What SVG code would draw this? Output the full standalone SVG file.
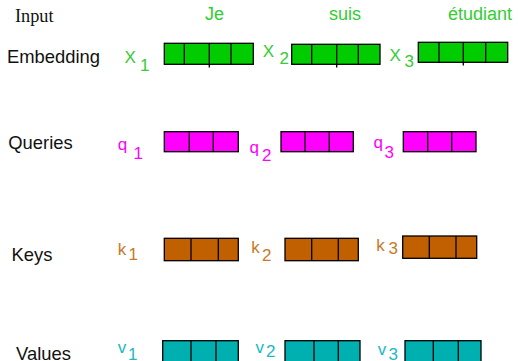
<svg xmlns="http://www.w3.org/2000/svg" width="518" height="361" viewBox="0 0 518 361">
  <style>
    .row { font-family: "Liberation Sans", Arial, sans-serif; font-size: 18.4px; fill: #111; }
    .word { font-family: "Liberation Sans", Arial, sans-serif; font-size: 18px; fill: #33cc33; }
    .lbl { font-family: "Liberation Sans", Arial, sans-serif; font-size: 17px; }
    .emb { fill: #00cc00; stroke: #000; stroke-width: 1.3; }
    .qry { fill: #ff00ff; stroke: #000; stroke-width: 1.3; }
    .key { fill: #c06000; stroke: #000; stroke-width: 1.3; }
    .val { fill: #00b0b0; stroke: #000; stroke-width: 1.3; }
    .div { stroke: #000; stroke-width: 1.3; fill: none; }
    .g { fill: #33cc33; }
    .m { fill: #ff00ff; }
    .b { fill: #c87828; }
    .t { fill: #20b8c4; }
  </style>

  <!-- row headings -->
  <g id="headings">
    <text x="15" y="21.5" style="font-family:'Liberation Serif','Times New Roman',serif;font-size:18.3px;fill:#111">Input</text>
    <text class="row" x="7" y="63.3">Embedding</text>
    <text class="row" x="8.3" y="149.3">Queries</text>
    <text class="row" x="11.5" y="260.7">Keys</text>
    <text class="row" x="16" y="359.5">Values</text>
  </g>

  <!-- input words -->
  <g id="words">
    <text class="word" x="205" y="20">Je</text>
    <text class="word" x="329" y="20">suis</text>
    <text class="word" x="448" y="20">étudiant</text>
  </g>

  <!-- embeddings -->
  <g id="x1">
    <text class="lbl g" x="124.5" y="63">X</text><text class="lbl g" x="140" y="70.7">1</text>
    <rect class="emb" x="164.3" y="43.3" width="89" height="21"/>
    <path class="div" d="M184.3 43.3V64.3M209.3 43.3V67.5M231 43.3V64.3"/>
  </g>
  <g id="x2">
    <text class="lbl g" x="262.8" y="56.7">X</text><text class="lbl g" x="279.5" y="64.3">2</text>
    <rect class="emb" x="291.7" y="44.3" width="88.3" height="20"/>
    <path class="div" d="M311.7 44.3V64.3M336.7 44.3V67.5M358.3 44.3V64.3"/>
  </g>
  <g id="x3">
    <text class="lbl g" x="389.5" y="60.7">X</text><text class="lbl g" x="404.5" y="66.7">3</text>
    <rect class="emb" x="418.3" y="42.3" width="89.4" height="20"/>
    <path class="div" d="M439 42.3V62.3M463.3 42.3V65.5M485.7 42.3V62.3"/>
  </g>

  <!-- queries -->
  <g id="q1">
    <text class="lbl m" x="117.8" y="149.5">q</text><text class="lbl m" x="133.5" y="159.3">1</text>
    <rect class="qry" x="164.3" y="131.7" width="74" height="20"/>
    <path class="div" d="M189.3 131.7V151.7M213.3 131.7V151.7"/>
  </g>
  <g id="q2">
    <text class="lbl m" x="249.5" y="152.5">q</text><text class="lbl m" x="262" y="160.7">2</text>
    <rect class="qry" x="281" y="131.7" width="72.3" height="20"/>
    <path class="div" d="M305 131.7V151.7M329.3 131.7V151.7"/>
  </g>
  <g id="q3">
    <text class="lbl m" x="373.5" y="147.8">q</text><text class="lbl m" x="384.5" y="157.7">3</text>
    <rect class="qry" x="403.3" y="131.7" width="72.7" height="20"/>
    <path class="div" d="M427.7 131.7V151.7M451.7 131.7V151.7"/>
  </g>

  <!-- keys -->
  <g id="k1">
    <text class="lbl b" x="117.8" y="255">k</text><text class="lbl b" x="128.5" y="260">1</text>
    <rect class="key" x="164.3" y="238.3" width="74" height="22.4"/>
    <path class="div" d="M191 238.3V260.7M218.3 238.3V260.7"/>
  </g>
  <g id="k2">
    <text class="lbl b" x="251.2" y="253.3">k</text><text class="lbl b" x="262" y="261">2</text>
    <rect class="key" x="285" y="238.3" width="73.3" height="22.4"/>
    <path class="div" d="M311.7 238.3V260.7M338.3 238.3V260.7"/>
  </g>
  <g id="k3">
    <text class="lbl b" x="376.2" y="251">k</text><text class="lbl b" x="388.5" y="254.3">3</text>
    <rect class="key" x="402.7" y="236" width="74" height="22.3"/>
    <path class="div" d="M429.3 236V258.3M456 236V258.3"/>
  </g>

  <!-- values -->
  <g id="v1">
    <text class="lbl t" x="117.8" y="353.3">v</text><text class="lbl t" x="128" y="359.5">1</text>
    <rect class="val" x="162.7" y="340.7" width="75.6" height="30"/>
    <path class="div" d="M191 340.7V370M216 340.7V370"/>
  </g>
  <g id="v2">
    <text class="lbl t" x="255.5" y="353">v</text><text class="lbl t" x="266" y="356.7">2</text>
    <rect class="val" x="285" y="340.7" width="75" height="30"/>
    <path class="div" d="M314 340.7V370M338.3 340.7V370"/>
  </g>
  <g id="v3">
    <text class="lbl t" x="377.8" y="355">v</text><text class="lbl t" x="388.5" y="359.5">3</text>
    <rect class="val" x="405" y="340.7" width="76" height="30"/>
    <path class="div" d="M433.3 340.7V370M458.3 340.7V370"/>
  </g>

  <!-- no connectors are drawn between the vectors -->
  <g id="connectors"/>
</svg>
